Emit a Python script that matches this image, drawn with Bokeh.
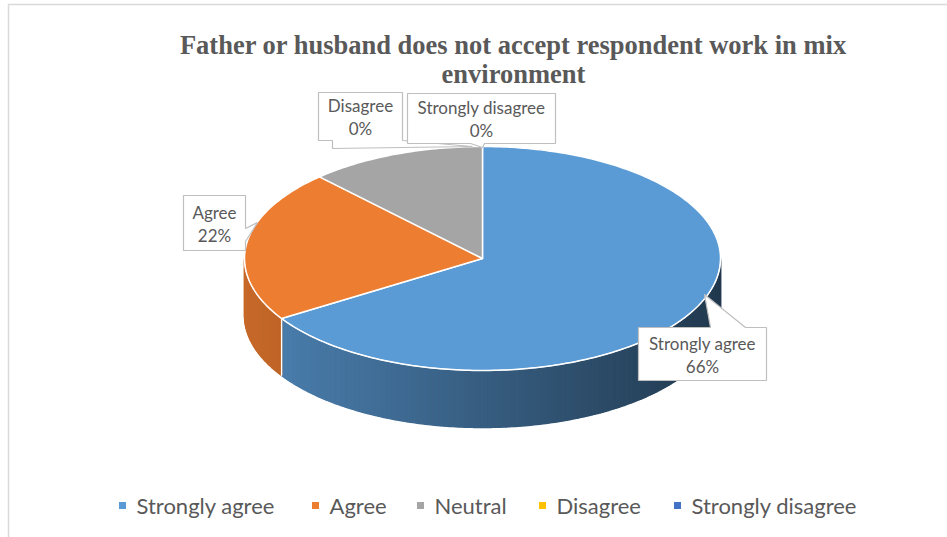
import numpy as np
from bokeh.plotting import figure
from bokeh.models import Range1d
from bokeh.core.properties import value
from bokeh.embed import file_html
from bokeh.resources import INLINE

# ---- data -------------------------------------------------------------
categories = ["Strongly agree", "Agree", "Neutral", "Disagree", "Strongly disagree"]
shares = [66, 22, 12, 0, 0]
colors = ["#5B9BD5", "#ED7D31", "#A5A5A5", "#FFC000", "#4472C4"]
title_lines = ["Father or husband does not accept respondent work in mix", "environment"]
labelled = ["Strongly agree", "Agree", "Disagree", "Strongly disagree"]

# ---- layout -----------------------------------------------------------
W, H = 947, 537
CX, CY, RX, RY, DEPTH = 482, 258, 238, 112, 57
TEXT_GREY = "#595959"
LABEL_FONT = "Lato"
# callout boxes: (left, top, right, bottom) and outline with pointer
callouts = {
    "Strongly agree": dict(box=(638, 327, 766, 380),
                          shape=[(638, 327), (710, 327), (704, 294), (745, 327), (766, 327),
                                 (766, 380), (638, 380)]),
    "Agree": dict(box=(183, 195, 245, 250),
                  shape=[(183, 195), (245, 195), (245, 228), (257, 222), (245, 241),
                         (245, 250), (183, 250)]),
    "Disagree": dict(box=(318, 92, 402, 140),
                     shape=[(318, 92), (402, 92), (402, 140), (472, 146), (332, 148),
                            (332, 140), (318, 140)]),
    "Strongly disagree": dict(box=(407, 93, 555, 143),
                              shape=[(407, 93), (555, 93), (555, 143), (484, 143),
                                     (482, 147), (470, 143), (407, 143)]),
}
legend_x = [122, 315, 420, 542, 677]
legend_y = 505


def pt(theta_deg, dy=0.0):
    t = np.radians(theta_deg)
    return CX + RX * np.cos(t), CY - RY * np.sin(t) + dy


def shade(hex_color, factor):
    r, g, b = (int(hex_color[i:i + 2], 16) for i in (1, 3, 5))
    return "#%02x%02x%02x" % tuple(max(0, min(255, int(round(c * factor)))) for c in (r, g, b))


p = figure(width=W, height=H, x_range=Range1d(0, W), y_range=Range1d(H, 0),
           output_backend="svg", toolbar_location=None, min_border=0)
p.axis.visible = False
p.grid.visible = False
p.outline_line_color = None
p.background_fill_color = "white"
p.border_fill_color = "white"

# chart frame (top and left edges)
p.line([8, 8, W], [H, 4, 4], line_color="#D9D9D9", line_width=1.5)

# slice angle ranges, clockwise from 12 o'clock
total = float(sum(shares))
cum = np.concatenate([[0.0], np.cumsum(shares)]) / total
slices = []
for i, cat in enumerate(categories):
    a_start = 90 - 360 * cum[i]
    a_end = 90 - 360 * cum[i + 1]
    slices.append((cat, colors[i], a_end, a_start))  # lo, hi

# ---- side walls (front half only) ---------------------------------------
base_x, base_y, base_c = [], [], []
wx, wy, wc = [], [], []
edge_angles = []
for cat, col, lo, hi in slices:
    if hi - lo <= 0:
        continue
    for k in (-1, 0, 1):
        s = max(lo, 180 + 360 * k)
        e = min(hi, 360 + 360 * k)
        if e <= s:
            continue
        th = np.linspace(s, e, 120)
        xs, ys = pt(th)
        base_x.append(list(xs) + list(xs[::-1]))
        base_y.append(list(ys) + list(ys[::-1] + DEPTH))
        base_c.append(shade(col, 0.6))
        n = max(2, int((e - s) / 0.75))
        th = np.linspace(s, e, n + 1)
        for a, b in zip(th[:-1], th[1:]):
            xa, ya = pt(a)
            xb, yb = pt(b)
            u = (np.cos(np.radians((a + b) / 2)) + 1) / 2
            c = shade(col, 0.84 - 0.47 * u)
            wx.append([xa, xb, xb, xa])
            wy.append([ya, yb, yb + DEPTH, ya + DEPTH])
            wc.append(c)
    for a in (lo, hi):
        if np.sin(np.radians(a)) < 0:
            edge_angles.append(a)
p.patches(base_x, base_y, fill_color=base_c, line_color=None)
p.patches(wx, wy, fill_color=wc, line_color=wc, line_width=1.4)

for a in edge_angles:
    x0, y0 = pt(a)
    p.line([x0, x0], [y0, y0 + DEPTH], line_color="white", line_width=1.2)

# ---- top face ----------------------------------------------------------
tx, ty, tc = [], [], []
for cat, col, lo, hi in slices:
    if hi - lo <= 0:
        continue
    th = np.linspace(hi, lo, max(3, int((hi - lo) / 1.0)))
    xs, ys = pt(th)
    tx.append([CX] + list(xs))
    ty.append([CY] + list(ys))
    tc.append(col)
p.patches(tx, ty, fill_color=tc, line_color="white", line_width=1.5, line_join="round")

# white rim along the front edge of the top face
th = np.linspace(180, 360, 200)
rx_, ry_ = pt(th)
p.line(rx_, ry_, line_color="white", line_width=1.0, line_alpha=0.9)

# ---- data label callouts ------------------------------------------------
share_of = dict(zip(categories, shares))
for cat in labelled:
    c = callouts[cat]
    xs = [q[0] for q in c["shape"]]
    ys = [q[1] for q in c["shape"]]
    p.patch(xs, ys, fill_color="white", line_color="#BFBFBF", line_width=1.2)
    l, t, r, b = c["box"]
    xm = (l + r) / 2
    ym = (t + b) / 2
    p.text([xm], [ym - 11], text=[cat], text_align="center", text_baseline="middle",
           text_font=value(LABEL_FONT), text_font_size="17px", text_color=TEXT_GREY)
    p.text([xm], [ym + 12], text=["%d%%" % share_of[cat]], text_align="center",
           text_baseline="middle", text_font=value(LABEL_FONT), text_font_size="17px",
           text_color=TEXT_GREY)

# ---- title ---------------------------------------------------------------
for i, line in enumerate(title_lines):
    p.text([513], [44 + 29 * i], text=[line], text_align="center", text_baseline="middle",
           text_font=value("Liberation Serif"), text_font_style="bold",
           text_font_size="26.5px", text_color=TEXT_GREY)

# ---- legend ----------------------------------------------------------------
p.scatter(legend_x, [legend_y] * len(legend_x), marker="square", size=7,
          fill_color=colors, line_color=None)
p.text([x + 14 for x in legend_x], [legend_y] * len(legend_x), text=categories,
       text_align="left", text_baseline="middle", text_font=value(LABEL_FONT),
       text_font_size="22px", text_color=TEXT_GREY)

open("out.html", "w").write(file_html(p, INLINE))
